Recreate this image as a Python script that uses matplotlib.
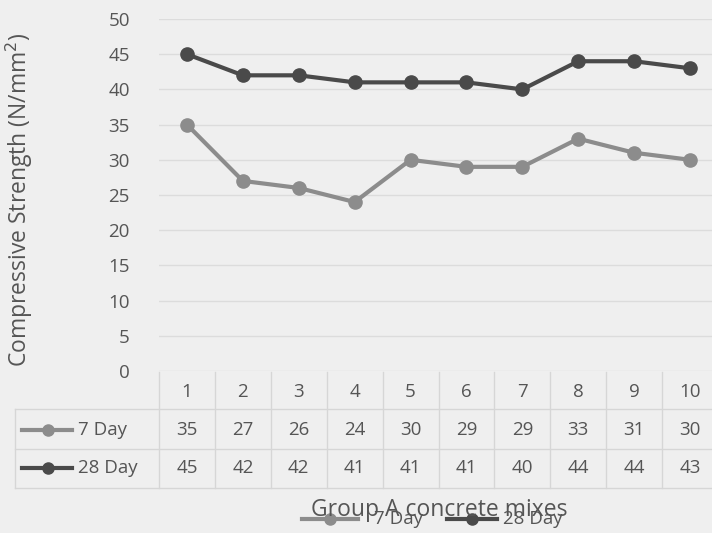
import numpy as np
import matplotlib
matplotlib.use('Agg')
from matplotlib import pyplot as plt
from matplotlib.lines import Line2D

plt.rcParams['font.family'] = ['Open Sans', 'DejaVu Sans']

mixes = ['1', '2', '3', '4', '5', '6', '7', '8', '9', '10']
day7 = [35, 27, 26, 24, 30, 29, 29, 33, 31, 30]
day28 = [45, 42, 42, 41, 41, 41, 40, 44, 44, 43]
series_names = ['7 Day', '28 Day']
y_ticks = [0, 5, 10, 15, 20, 25, 30, 35, 40, 45, 50]

bg = '#efefef'
txt = '#555555'
grid_c = '#dcdcdc'
c7 = '#8c8c8c'
c28 = '#4a4a4a'
fs = 13.5

W, H = 712, 533
fig = plt.figure(figsize=(W / 100, H / 100), dpi=100, facecolor=bg)
# plot area in pixels: x 159..718, y 19..371
ax = fig.add_axes([159 / W, 1 - 371 / H, 559 / W, 352 / H], facecolor=bg)

x = np.arange(len(mixes))
ax.set_xlim(-0.5, len(mixes) - 0.5)
ax.set_ylim(0, 50)
for t in y_ticks:
    ax.axhline(t, color=grid_c, lw=1, zorder=0)

ax.plot(x, day7, color=c7, lw=3, marker='o', ms=9.5, zorder=3)
ax.plot(x, day28, color=c28, lw=3, marker='o', ms=9.5, zorder=3)

for s in ax.spines.values():
    s.set_visible(False)
ax.set_xticks([])
ax.set_yticks(y_ticks)
ax.set_yticklabels([str(t) for t in y_ticks], fontsize=fs, color=txt)
ax.tick_params(axis='y', length=0, pad=21)

fig.text(19 / W, 1 - 200 / H, 'Compressive Strength (N/mm$^2$)', rotation=90,
         ha='center', va='center', fontsize=16.5, color=txt)

# data table under the plot
def ay(p):
    return (371 - p) / 352

rows = [day7, day28]
cols = [c7, c28]
row_y = [430, 468]
line_c = '#d6d6d6'
kw = dict(transform=ax.transAxes, clip_on=False, color=line_c, lw=1)
for p in [409, 449, 488]:
    ax.add_line(Line2D([-144 / 559, 1], [ay(p), ay(p)], **kw))
ax.add_line(Line2D([-144 / 559, -144 / 559], [ay(409), ay(488)], **kw))
for k in range(len(mixes) + 1):
    xa = k / len(mixes)
    ax.add_line(Line2D([xa, xa], [ay(372), ay(488)], **kw))

for i, m in enumerate(mixes):
    xa = (i + 0.5) / len(mixes)
    ax.text(xa, ay(392), m, transform=ax.transAxes, ha='center', va='center',
            fontsize=fs, color=txt)
    for vals, yy in zip(rows, row_y):
        ax.text(xa, ay(yy), str(vals[i]), transform=ax.transAxes, ha='center',
                va='center', fontsize=fs, color=txt)

for name, col, yy in zip(series_names, cols, row_y):
    ax.add_line(Line2D([-137 / 559, -87 / 559], [ay(yy), ay(yy)], transform=ax.transAxes,
                       clip_on=False, color=col, lw=3))
    ax.plot([-111 / 559], [ay(yy)], transform=ax.transAxes, clip_on=False,
            marker='o', ms=8, color=col)
    ax.text(-81 / 559, ay(yy), name, transform=ax.transAxes, ha='left', va='center',
            fontsize=fs, color=txt)

# x axis title and legend (overlapping as in the source)
fig.text(439 / W, 1 - 510 / H, 'Group A concrete mixes', ha='center', va='center',
         fontsize=16.5, color=txt)
leg_items = [(302, 358, 374, series_names[0], c7), (447, 497, 503, series_names[1], c28)]
for x0, x1, xt, name, col in leg_items:
    yy = 1 - 519 / H
    fig.add_artist(Line2D([x0 / W, x1 / W], [yy, yy], color=col, lw=3))
    fig.add_artist(Line2D([(x0 + x1) / 2 / W], [yy], color=col, marker='o', ms=8))
    fig.text(xt / W, yy, name, ha='left', va='center', fontsize=fs, color=txt)

fig.savefig('out.png', dpi=100, facecolor=bg)
